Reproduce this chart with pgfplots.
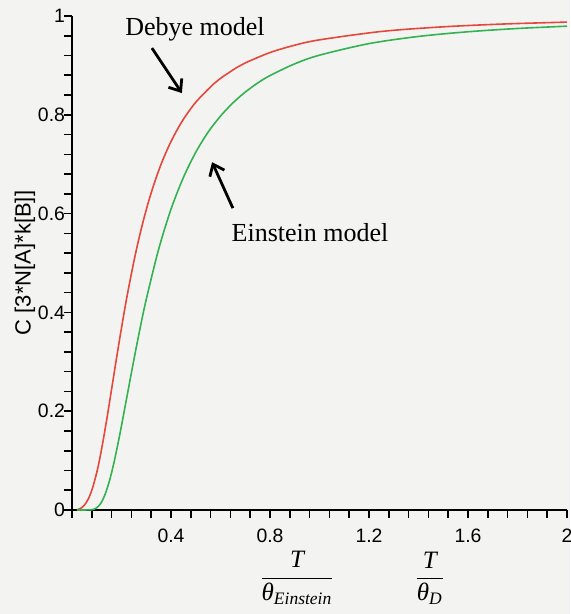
\documentclass[border=0pt]{standalone}
\usepackage{amsmath}
\usepackage{fontspec}
\setmainfont{Liberation Serif}
\setsansfont{Liberation Sans}
\usepackage{pgfplots}
\pgfplotsset{compat=1.18}
\usetikzlibrary{arrows.meta}
\definecolor{debye}{RGB}{228,72,58}
\definecolor{einstein}{RGB}{52,178,82}
\definecolor{paper}{RGB}{243,243,241}

\begin{document}
\begin{tikzpicture}
\fill[paper] (-36pt,-52pt) rectangle (249pt,255pt);
\begin{axis}[
  scale only axis,
  width=247.5pt, height=247pt,
  xmin=0, xmax=2, ymin=0, ymax=1,
  axis lines=left,
  axis line style={-, line width=0.8pt},
  xtick={0.4,0.8,1.2,1.6,2},
  ytick={0,0.2,0.4,0.6,0.8,1},
  minor xtick={0,0.08,0.16,0.24,0.32,0.48,0.56,0.64,0.72,0.88,0.96,1.04,1.12,1.28,1.36,1.44,1.52,1.68,1.76,1.84,1.92},
  minor ytick={0.04,0.08,0.12,0.16,0.24,0.28,0.32,0.36,0.44,0.48,0.52,0.56,0.64,0.68,0.72,0.76,0.84,0.88,0.92,0.96},
  tick align=outside,
  major tick length=4pt, minor tick length=4pt,
  tick style={black, line width=0.8pt},
  ticklabel style={font=\sffamily\fontsize{9.7}{11}\selectfont},
  yticklabel style={xshift=4pt},
  xticklabel style={yshift=-2pt},
  /pgf/number format/assume math mode=true,
  clip=false,
]
% Debye model, C/(3 N k) against T/theta_D
\addplot[debye, line width=0.8pt, smooth] coordinates {
  (0.02,0.0006) (0.0333,0.0029) (0.04,0.0050) (0.05,0.0097)
  (0.0667,0.0231) (0.0833,0.0449) (0.1,0.0758) (0.1111,0.1013)
  (0.125,0.1382) (0.1429,0.1909) (0.1538,0.2251) (0.1667,0.2656)
  (0.1818,0.3133) (0.2,0.3686) (0.2222,0.4323) (0.25,0.5031)
  (0.2667,0.5414) (0.2857,0.5807) (0.3077,0.6215) (0.3333,0.6628)
  (0.3636,0.7045) (0.4,0.7459) (0.4444,0.7864) (0.5,0.8254)
  (0.5714,0.8622) (0.6,0.8738) (0.6667,0.8960) (0.7,0.9050)
  (0.8,0.9260) (0.9,0.9409) (1.0,0.9517)
  (1.25,0.9687) (1.5,0.9781) (1.75,0.9839) (2.0,0.9876)
};
% Einstein model, C/(3 N k) against T/theta_E
\addplot[einstein, line width=0.8pt, smooth] coordinates {
  (0.02,0) (0.05,0) (0.08,0.0006) (0.09,0.0018) (0.1,0.0045)
  (0.1125,0.0109) (0.125,0.0215) (0.1375,0.0368) (0.15,0.0567)
  (0.1625,0.0808) (0.175,0.1085) (0.1875,0.1387) (0.2,0.1707)
  (0.225,0.2375) (0.25,0.3041) (0.275,0.3676) (0.3,0.4263)
  (0.35,0.5277) (0.4,0.6089) (0.45,0.6730) (0.5,0.7241)
  (0.55,0.7649) (0.6,0.7974) (0.65,0.8240) (0.7,0.8460)
  (0.75,0.8642) (0.8,0.8794) (0.9,0.9032)
  (1.0,0.9207) (1.2,0.9441) (1.4,0.9586) (1.6,0.9681)
  (1.8,0.9747) (2.0,0.9794)
};
\node[rotate=90, font=\sffamily\fontsize{11}{13}\selectfont]
  at (axis description cs:-0.095,0.5) {C [3*N[A]*k[B]]};
\node[anchor=base, font=\fontsize{13}{15}\selectfont] at (axis cs:0.497,0.9615) {Debye model};
\draw[-{Straight Barb[length=5pt,width=8pt]}, line width=1.4pt] (axis cs:0.323,0.935) -- (axis cs:0.444,0.844);
\node[anchor=base, font=\fontsize{13}{15}\selectfont] at (axis cs:0.962,0.5445) {Einstein model};
\draw[-{Straight Barb[length=5pt,width=8pt]}, line width=1.4pt] (axis cs:0.650,0.611) -- (axis cs:0.566,0.704);
\node[font=\fontsize{12.5}{15}\selectfont] at (axis cs:0.909,0) [yshift=-34pt]
  {$\dfrac{\textit{T}}{\textit{θ}_{\textit{Einstein}}}$};
\node[font=\fontsize{12.5}{15}\selectfont] at (axis cs:1.446,0) [yshift=-34pt]
  {$\dfrac{\textit{T}}{\textit{θ}_{\textit{D}}}$};
\end{axis}
\pgfresetboundingbox
\useasboundingbox (-36pt,-52pt) rectangle (249pt,255pt);
\end{tikzpicture}
\end{document}
